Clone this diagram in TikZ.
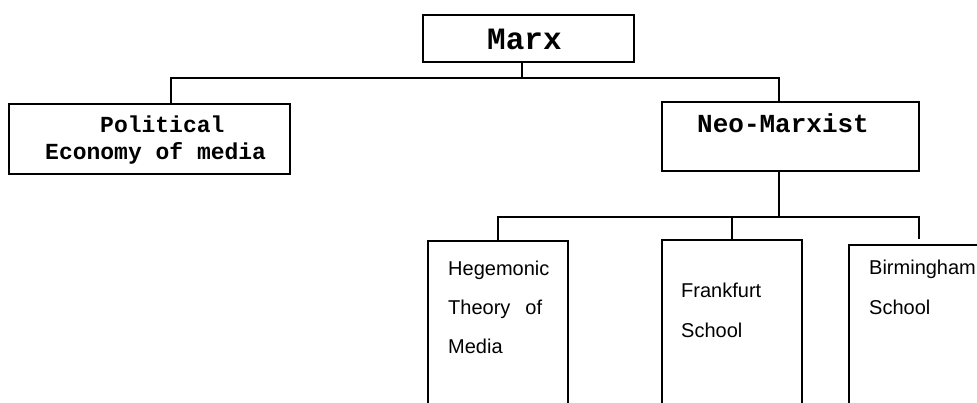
\documentclass[tikz,border=0pt]{standalone}
\usepackage{fontspec}
\setmainfont{Liberation Sans}
\newfontfamily\monofont{Liberation Mono}
\newfontfamily\arialfont{Liberation Sans}
\begin{document}
\begin{tikzpicture}[x=1pt,y=-1pt,
  box/.style={draw,line width=1.8pt,rectangle,inner sep=0pt},
  link/.style={draw,line width=1.8pt},
  mtext/.style={anchor=base west,inner sep=0pt,font=\monofont\bfseries},
  stext/.style={anchor=base west,inner sep=0pt,font=\arialfont\fontsize{20}{20}\selectfont}]
\useasboundingbox (0,0) rectangle (977,403);
\clip (0,0) rectangle (977,403);
% boxes
\node[box,minimum width=211pt,minimum height=47pt] (marx) at (528.5,38.5) {};
\node[box,minimum width=281pt,minimum height=70pt] (pol) at (149.5,139) {};
\node[box,minimum width=257pt,minimum height=69pt] (neo) at (790.5,136.5) {};
\node[box,minimum width=140pt,minimum height=220pt] (heg) at (498,351) {};
\node[box,minimum width=140pt,minimum height=220pt] (fra) at (732,350) {};
\node[box,minimum width=140pt,minimum height=220pt] (bir) at (919,355) {};
% texts
\node[mtext,font=\monofont\bfseries\fontsize{31}{31}\selectfont] (tmarx) at (487,50) {Marx};
\node[mtext,font=\monofont\bfseries\fontsize{23}{23}\selectfont] (tpol1) at (100,133) {Political};
\node[mtext,font=\monofont\bfseries\fontsize{23}{23}\selectfont] (tpol2) at (45,160) {Economy of media};
\node[mtext,font=\monofont\bfseries\fontsize{26}{26}\selectfont] (tneo) at (697,133) {Neo-Marxist};
\node[stext] (theg1) at (448,276) {Hegemonic};
\node[stext] (theg2) at (448,315) {Theory\hspace{15pt}of};
\node[stext] (theg3) at (448,353) {Media};
\node[stext] (tfra1) at (681,298) {Frankfurt};
\node[stext] (tfra2) at (681,337) {School};
\node[stext] (tbir1) at (869,275) {Birmingham};
\node[stext] (tbir2) at (869,314) {School};
% connector junctions
\coordinate (j1) at (522,78);
\coordinate (bl) at (171,78);
\coordinate (br) at (779,78);
\coordinate (j2) at (779,217);
% connectors
\path[link] (marx.south -| j1) -- (j1);
\path[link] (pol.north -| bl) |- (br) -- (neo.north -| br);
\path[link] (neo.south -| j2) -- (j2);
\path[link] (heg.north) |- (j2) -| ([yshift=5pt]bir.north);
\path[link] (fra.north) -- (fra.north |- j2);
\end{tikzpicture}
\end{document}
